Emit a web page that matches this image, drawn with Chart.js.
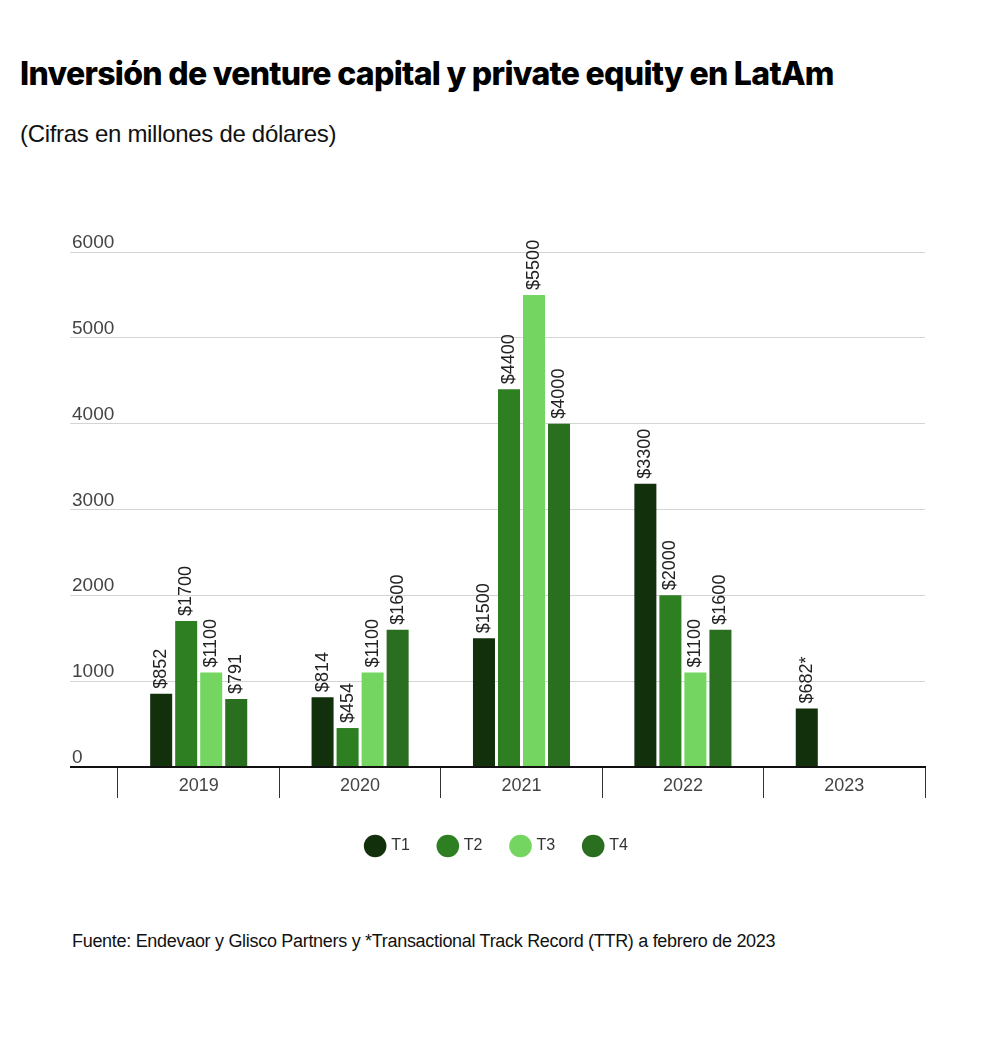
<!DOCTYPE html>
<html>
<head>
<meta charset="utf-8">
<script src="https://cdn.jsdelivr.net/npm/chart.js@4.4.0/dist/chart.umd.min.js"></script>
<style>
  body { margin: 0; background: #fff; width: 1000px; height: 1042px; position: relative; overflow: hidden; }
  .title { position: absolute; left: 20px; top: 54px; font-family: Inter, "Liberation Sans", sans-serif; font-weight: 800; font-size: 32px; letter-spacing: -0.7px; color: #000; }
  .sub { position: absolute; left: 20px; top: 120px; font-family: "Liberation Sans", sans-serif; font-size: 24px; letter-spacing: -0.3px; color: #111; }
  .foot { position: absolute; left: 72px; top: 931px; font-family: "Liberation Sans", sans-serif; font-size: 18px; letter-spacing: -0.3px; color: #111; }
  #wrap { position: absolute; left: 0; top: 200px; width: 1000px; height: 680px; }
</style>
</head>
<body>
<div class="title">Inversión de venture capital y private equity en LatAm</div>
<div class="sub">(Cifras en millones de dólares)</div>
<div id="wrap"><canvas id="myChart"></canvas></div>
<div class="foot">Fuente: Endevaor y Glisco Partners y *Transactional Track Record (TTR) a febrero de 2023</div>
<script>
const years = ["2019", "2020", "2021", "2022", "2023"];
const t1 = [852, 814, 1500, 3300, 682];
const t2 = [1700, 454, 4400, 2000, null];
const t3 = [1100, 1100, 5500, 1100, null];
const t4 = [791, 1600, 4000, 1600, null];
const noteMarks = ["", "", "", "", "*"];
const yTicks = [0, 1000, 2000, 3000, 4000, 5000, 6000];
const seriesNames = ["T1", "T2", "T3", "T4"];
const barColors = ["#13300d", "#2d7f22", "#74d560", "#2a6e1f"];

// rotated "$value" labels above each bar
const valueLabels = {
  id: "valueLabels",
  afterDatasetsDraw(chart) {
    const ctx = chart.ctx;
    ctx.save();
    ctx.font = "18px 'Liberation Sans', sans-serif";
    ctx.fillStyle = "#222";
    ctx.textAlign = "left";
    ctx.textBaseline = "middle";
    chart.data.datasets.forEach((ds, di) => {
      chart.getDatasetMeta(di).data.forEach((bar, i) => {
        const v = ds.data[i];
        if (v === null) return;
        ctx.save();
        ctx.translate(bar.x, bar.y - 5);
        ctx.rotate(-Math.PI / 2);
        ctx.fillText("$" + v + noteMarks[i], 0, 0);
        ctx.restore();
      });
    });
    ctx.restore();
  }
};

// y tick labels sit above the gridlines, at their left end
const yLabels = {
  id: "yLabels",
  afterDraw(chart) {
    const ctx = chart.ctx;
    const y = chart.scales.y;
    ctx.save();
    ctx.font = "19px 'Liberation Sans', sans-serif";
    ctx.fillStyle = "#444";
    ctx.textAlign = "left";
    ctx.textBaseline = "alphabetic";
    yTicks.forEach(v => {
      ctx.fillText(String(v), chart.chartArea.left - 46, y.getPixelForValue(v) - 4);
    });
    ctx.restore();
  }
};

new Chart("myChart", {
  type: "bar",
  data: {
    labels: years,
    datasets: seriesNames.map((n, k) => ({
      label: n,
      data: [t1, t2, t3, t4][k],
      backgroundColor: barColors[k],
      barPercentage: 0.88,
      categoryPercentage: 0.62
    }))
  },
  options: {
    responsive: true,
    maintainAspectRatio: false,
    animation: false,
    layout: { padding: { top: 52, left: 70, right: 75, bottom: 16 } },
    plugins: {
      title: { display: false },
      tooltip: { enabled: false },
      legend: {
        position: "bottom",
        labels: {
          usePointStyle: true,
          pointStyle: "circle",
          padding: 30,
          color: "#333",
          font: { family: "'Liberation Sans', sans-serif", size: 16 }
        }
      }
    },
    scales: {
      x: {
        grid: { offset: true, drawOnChartArea: false, drawTicks: true, tickLength: 31, color: "#333", lineWidth: 1 },
        border: { display: true, color: "#111", width: 2 },
        ticks: { padding: -23, color: "#444", font: { family: "'Liberation Sans', sans-serif", size: 18 } },
        afterFit(scale) { scale.height = 41; }
      },
      y: {
        min: 0,
        max: 6000,
        ticks: { display: false, stepSize: 1000 },
        border: { display: false },
        grid: {
          drawTicks: true,
          tickLength: 48,
          color: c => c.tick.value === 0 ? "#111" : "#d4d4d4",
          lineWidth: c => c.tick.value === 0 ? 2 : 1
        }
      }
    }
  },
  plugins: [valueLabels, yLabels]
});
</script>
</body>
</html>
